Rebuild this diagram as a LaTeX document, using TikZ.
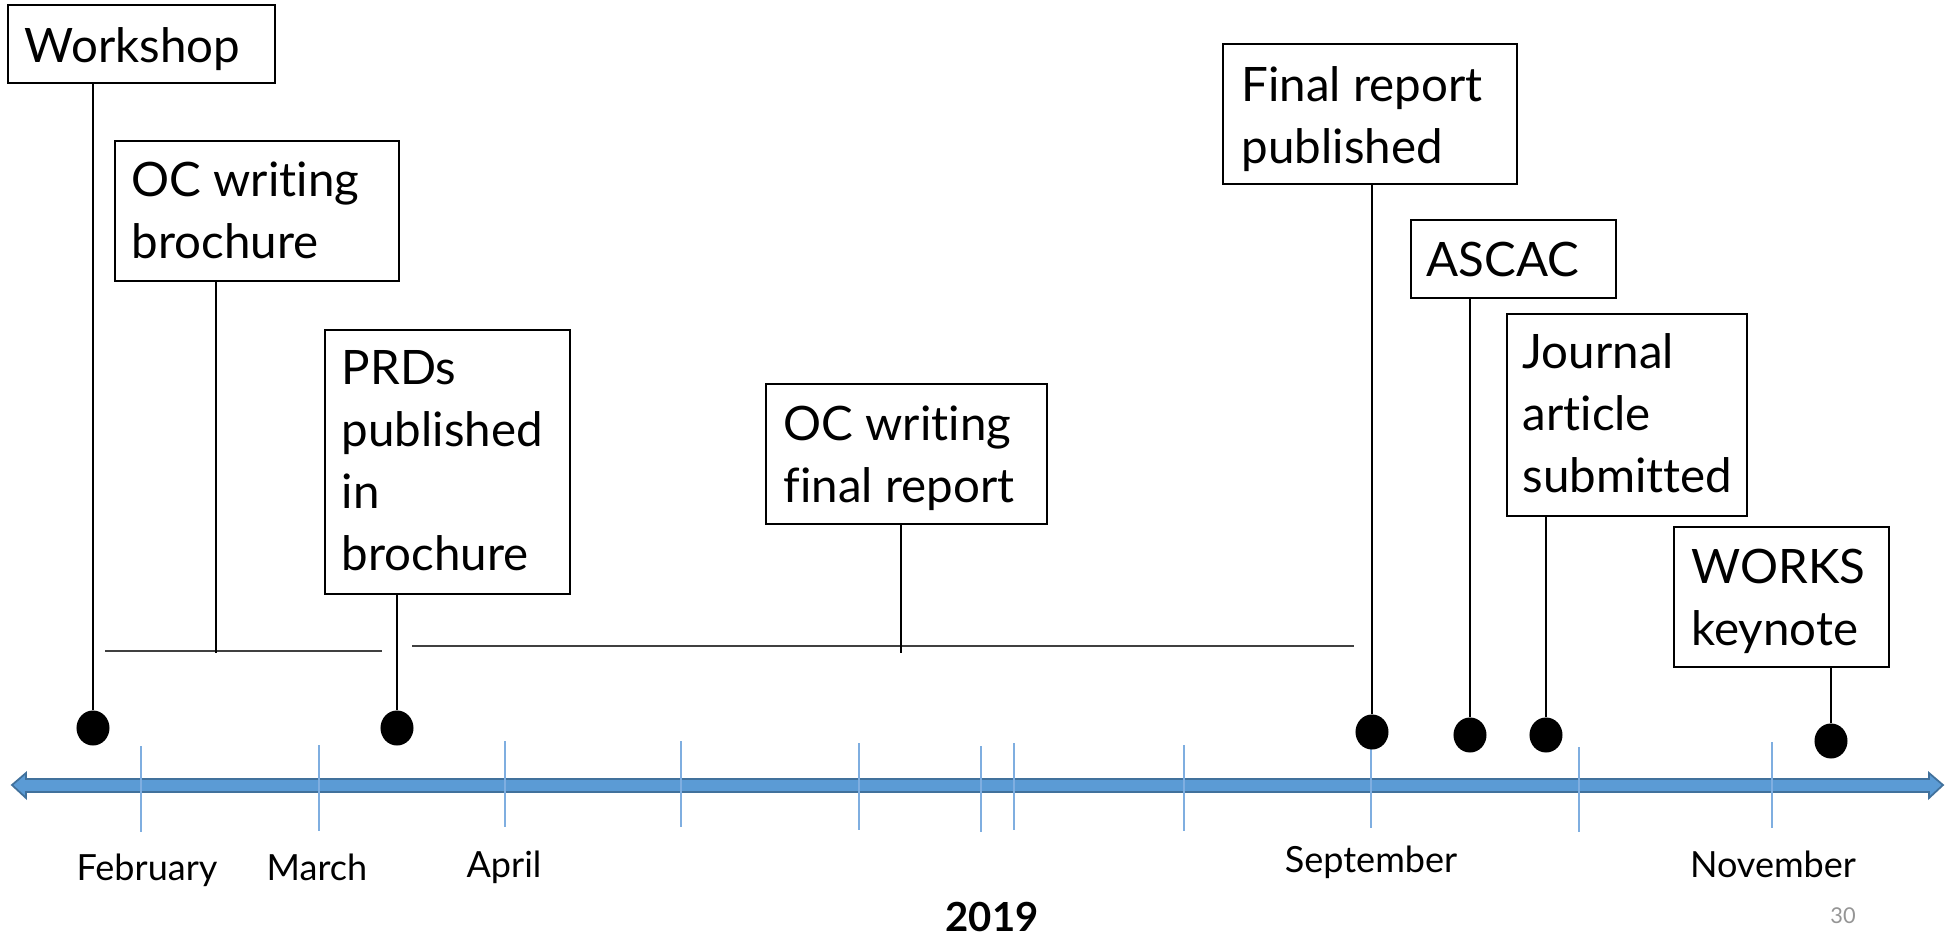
\documentclass[tikz,border=0pt]{standalone}
\usepackage{fontspec}
\setmainfont{Lato}[Ligatures=NoCommon]
\usetikzlibrary{shapes.geometric}
\definecolor{tickblue}{HTML}{7FAEE0}
\definecolor{arrowfill}{HTML}{5B9BD5}
\definecolor{arrowedge}{HTML}{41719C}
\definecolor{pagegray}{HTML}{959595}
\begin{document}
\begin{tikzpicture}[x=0.01cm,y=-0.01cm,
  evbox/.style={draw=black, line width=0.6pt, inner sep=0pt, anchor=north west},
  txt/.style={anchor=base west, align=left, inner sep=0pt, font=\fontsize{13.5}{17.6}\selectfont},
  stem/.style={line width=0.4pt, draw=black},
  spanline/.style={line width=0.45pt, draw=black!75},
  dot/.style={ellipse, fill=black, minimum width=0.33cm, minimum height=0.35cm, inner sep=0pt},
  tick/.style={draw=tickblue, line width=0.4pt},
  month/.style={anchor=base, inner sep=0pt, font=\fontsize{10.25}{12}\selectfont}]
\useasboundingbox (0,0) rectangle (1950,936);

% timeline arrow
\filldraw[fill=arrowfill, draw=arrowedge, line width=0.5pt]
  (12,785) -- (26,773) -- (26,779) -- (1929,779) -- (1929,773) -- (1943,785)
  -- (1929,798) -- (1929,792) -- (26,792) -- (26,798) -- cycle;

% ticks
\foreach \tx/\ta/\tb in {141/746/832, 319/745/831, 505/741/827, 681/741/827,
  859/743/830, 981/746/832, 1014/743/830, 1184/745/831, 1371/747/828,
  1579/747/832, 1772/742/828}
  \draw[tick] (\tx,\ta) -- (\tx,\tb);

% month labels
\node[month] (feb) at (147,880) {February};
\node[month] (mar) at (317,880) {March};
\node[month] (apr) at (504,877) {April};
\node[month] (sep) at (1371,872) {September};
\node[month] (nov) at (1773,877) {November};
\node[anchor=base, inner sep=0pt, font=\fontsize{11.4}{13}\selectfont\bfseries] (year) at (992,931) {2019};
\node[anchor=base, inner sep=0pt, text=pagegray, font=\fontsize{6.2}{7}\selectfont] (pnum) at (1843,923) {30};

% boxes
\node[evbox, minimum width=2.67cm, minimum height=0.78cm] (wsbox) at (7,4) {};
\node[evbox, minimum width=2.84cm, minimum height=1.40cm] (ocbbox) at (114,140) {};
\node[evbox, minimum width=2.45cm, minimum height=2.64cm] (prdbox) at (324,329) {};
\node[evbox, minimum width=2.81cm, minimum height=1.40cm] (ocfbox) at (765,383) {};
\node[evbox, minimum width=2.94cm, minimum height=1.40cm] (frbox) at (1222,43) {};
\node[evbox, minimum width=2.05cm, minimum height=0.78cm] (ascbox) at (1410,219) {};
\node[evbox, minimum width=2.40cm, minimum height=2.02cm] (jabox) at (1506,313) {};
\node[evbox, minimum width=2.15cm, minimum height=1.40cm] (wkbox) at (1673,526) {};

% texts (anchored at the baseline of their last line)
\node[txt] (wstxt) at (24,62) {Workshop};
\node[txt] (ocbtxt) at (131,258) {OC writing\\brochure};
\node[txt] (prdtxt) at (341,570) {PRDs\\published\\in\\brochure};
\node[txt] (ocftxt) at (783,502) {OC writing\\final report};
\node[txt] (frtxt) at (1241,163) {Final report\\published};
\node[txt] (asctxt) at (1426,276) {ASCAC};
\node[txt] (jatxt) at (1522,492) {Journal\\article\\submitted};
\node[txt] (wktxt) at (1691,645) {WORKS\\keynote};

% dots
\node[dot] (d1) at (93,728) {};
\node[dot] (d2) at (397,728) {};
\node[dot] (d3) at (1372,732) {};
\node[dot] (d4) at (1470,735) {};
\node[dot] (d5) at (1546,735) {};
\node[dot] (d6) at (1831,741) {};

% stems to dots
\draw[stem] (wsbox.south -| d1) -- (d1);
\draw[stem] (prdbox.south -| d2) -- (d2);
\draw[stem] (frbox.south -| d3) -- (d3);
\draw[stem] (ascbox.south -| d4) -- (d4);
\draw[stem] (jabox.south -| d5) -- (d5);
\draw[stem] (wkbox.south -| d6) -- (d6);

% spans
\coordinate (s1a) at (105,651);
\coordinate (s1b) at (382,651);
\coordinate (s2a) at (412,646);
\coordinate (s2b) at (1354,646);
\coordinate (c1) at (216,653);
\coordinate (c2) at (901,653);
\draw[spanline] (s1a) -- (s1b);
\draw[spanline] (s2a) -- (s2b);
\draw[stem] (ocbbox.south -| c1) -- (c1);
\draw[stem] (ocfbox.south -| c2) -- (c2);
\end{tikzpicture}
\end{document}
